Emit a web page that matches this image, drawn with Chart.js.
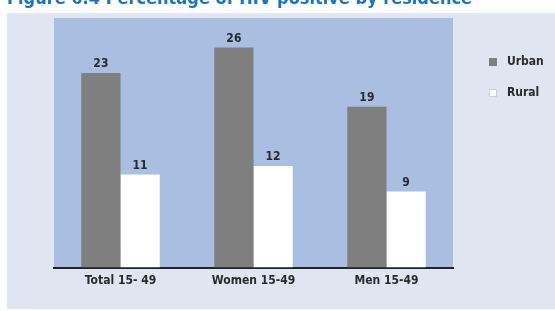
<!DOCTYPE html>
<html>
<head>
<meta charset="utf-8">
<script src="https://cdn.jsdelivr.net/npm/chart.js@4.4.1/dist/chart.umd.min.js"></script>
<style>
  html, body { margin: 0; padding: 0; background: #ffffff; overflow: hidden; }
  #wrap { position: relative; width: 555px; height: 311px; }
  #title {
    position: absolute; left: 7px; top: -13px; margin: 0;
    font: bold 18px "DejaVu Sans Condensed", "Liberation Sans Narrow", sans-serif;
    color: #1b72c4; white-space: nowrap; z-index: 2;
  }
  canvas { position: absolute; left: 0; top: 0; }
</style>
</head>
<body>
<div id="wrap">
  <div id="title">Figure 6.4 Percentage of HIV positive by residence</div>
  <canvas id="chart" width="555" height="311"></canvas>
</div>
<script>
// データ
const categories = ["Total 15- 49", "Women 15-49", "Men 15-49"];
const urbanValues = [23, 26, 19];
const ruralValues = [11, 12, 9];
const seriesNames = ["Urban", "Rural"];

const FONT = '"DejaVu Sans Condensed", "Liberation Sans Narrow", sans-serif';

// 背景（外側パネルとプロット領域の青）
const backgroundPlugin = {
  id: 'panels',
  beforeDraw(chart) {
    const ctx = chart.ctx;
    const a = chart.chartArea;
    ctx.save();
    ctx.fillStyle = '#dfe6f1';
    ctx.fillRect(7, 13, 548, 296);
    ctx.fillStyle = '#a9bee1';
    ctx.fillRect(a.left, a.top, a.right - a.left, a.bottom - a.top);
    ctx.restore();
  }
};

// 棒の上に値を表示
const valueLabelPlugin = {
  id: 'valueLabels',
  afterDatasetsDraw(chart) {
    const ctx = chart.ctx;
    ctx.save();
    ctx.font = 'bold 12px ' + FONT;
    ctx.fillStyle = '#2a2a2a';
    ctx.textAlign = 'center';
    ctx.textBaseline = 'bottom';
    chart.data.datasets.forEach((ds, i) => {
      chart.getDatasetMeta(i).data.forEach((bar, j) => {
        ctx.fillText(ds.data[j], bar.x, bar.y - 3);
      });
    });
    ctx.restore();
  }
};

// 凡例（右側）
const legendPlugin = {
  id: 'sideLegend',
  afterDraw(chart) {
    const ctx = chart.ctx;
    ctx.save();
    ctx.font = 'bold 12px ' + FONT;
    ctx.textBaseline = 'middle';
    chart.data.datasets.forEach((ds, i) => {
      const y = 62 + i * 31;
      ctx.fillStyle = ds.backgroundColor;
      ctx.fillRect(489, y - 4, 8, 8);
      if (ds.backgroundColor === '#ffffff') {
        ctx.strokeStyle = '#c8cfdc';
        ctx.lineWidth = 1;
        ctx.strokeRect(489.5, y - 3.5, 7, 7);
      }
      ctx.fillStyle = '#2a2a2a';
      ctx.fillText(ds.label, 507, y);
    });
    ctx.restore();
  }
};

const chart = new Chart(document.getElementById('chart'), {
  type: 'bar',
  data: {
    labels: categories,
    datasets: [
      { label: seriesNames[0], data: urbanValues, backgroundColor: '#7f7f7f', borderWidth: 0 },
      { label: seriesNames[1], data: ruralValues, backgroundColor: '#ffffff', borderWidth: 0 }
    ]
  },
  options: {
    responsive: false,
    animation: false,
    devicePixelRatio: 1,
    layout: { padding: { left: 54, right: 102, top: 18, bottom: 17 } },
    datasets: {
      bar: { categoryPercentage: 0.59, barPercentage: 1.0 }
    },
    plugins: {
      legend: { display: false },
      tooltip: { enabled: false }
    },
    scales: {
      x: {
        offset: true,
        grid: { display: false, drawTicks: false },
        border: { display: true, color: '#222222', width: 2 },
        ticks: {
          color: '#2a2a2a',
          padding: 6,
          font: { family: FONT, size: 12, weight: 'bold' }
        }
      },
      y: {
        display: false,
        min: 0,
        max: 29.5
      }
    }
  },
  plugins: [backgroundPlugin, valueLabelPlugin, legendPlugin]
});
</script>
</body>
</html>
